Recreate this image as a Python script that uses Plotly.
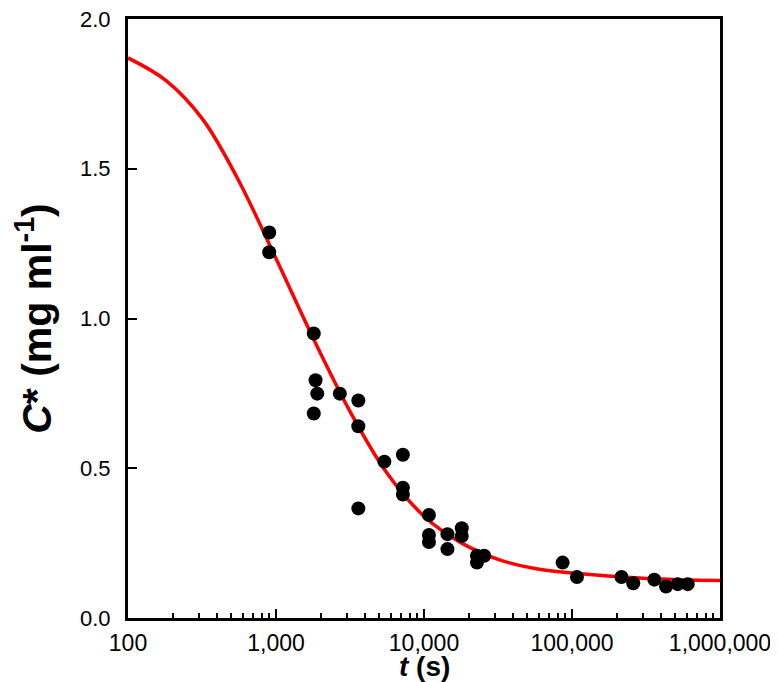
import plotly.graph_objects as go

# measured points: time (s) and C* (mg/ml)
t_obs = [900, 900, 1800, 1850, 1900, 1800, 2700, 3600, 3600, 3600,
         5400, 7200, 7200, 7200, 10800, 10800, 10800, 14400, 14400,
         18000, 18000, 22800, 25500, 22800,
         86400, 108000, 216000, 259200, 360000, 432000, 518400, 604800]
c_obs = [1.287, 1.221, 0.950, 0.794, 0.749, 0.683, 0.749, 0.726, 0.640, 0.366,
         0.522, 0.545, 0.435, 0.412, 0.344, 0.277, 0.254, 0.280, 0.230,
         0.300, 0.274, 0.208, 0.208, 0.185,
         0.185, 0.137, 0.137, 0.116, 0.128, 0.105, 0.113, 0.113]

# fitted curve
t_fit = [100, 180, 320, 560, 1000, 1800, 3200, 5600, 10000, 18000,
         32000, 56000, 100000, 320000, 1000000]
c_fit = [1.87, 1.795, 1.665, 1.46, 1.20, 0.93, 0.685, 0.485, 0.34, 0.25,
         0.195, 0.165, 0.15, 0.132, 0.125]

x_ticks = [100, 1000, 10000, 100000, 1000000]
x_labels = ["100", "1,000", "10,000", "100,000", "1,000,000"]

fnt = "Liberation Sans, Arial, sans-serif"

fig = go.Figure()
fig.add_trace(go.Scatter(x=t_fit, y=c_fit, mode="lines", line_shape="spline",
                         line=dict(color="#ff0000", width=3.5), showlegend=False))
fig.add_trace(go.Scatter(x=t_obs, y=c_obs, mode="markers",
                         marker=dict(color="black", size=14), showlegend=False))

# page has an 8px body margin, so keep the figure a bit smaller than the window
fig.update_layout(
    width=770, height=674,
    margin=dict(l=120, r=58, t=11, b=64),
    plot_bgcolor="white", paper_bgcolor="white",
    font=dict(family=fnt, color="black", size=22),
)
fig.update_xaxes(
    type="log", range=[2, 6], automargin=False,
    tickvals=x_ticks, ticktext=x_labels, tickfont=dict(size=23),
    ticks="inside", ticklen=9, tickwidth=2, tickcolor="black", ticklabelstandoff=2,
    minor=dict(ticks="inside", ticklen=5, tickwidth=1.5, tickcolor="black", dtick="D1"),
    showline=True, linecolor="black", linewidth=3, mirror=True,
    showgrid=False, zeroline=False,
)
fig.update_yaxes(
    range=[0, 2.0], dtick=0.5, tickformat=".1f", ticklabeloverflow="allow", automargin=False,
    ticks="inside", ticklen=9, tickwidth=2, tickcolor="black", ticklabelstandoff=10,
    showline=True, linecolor="black", linewidth=3, mirror=True,
    showgrid=False, zeroline=False,
    title=dict(text="<b><i>C</i>* (mg ml<sup>-1</sup>)</b>", font=dict(size=41), standoff=27),
)
# x title as an annotation so it can sit below the tick labels
fig.add_annotation(text="<b><i>t</i> (s)</b>", xref="paper", yref="paper",
                   x=0.5, y=0, yshift=-48, yanchor="middle", showarrow=False,
                   font=dict(size=28))

fig.write_html("out.html")
